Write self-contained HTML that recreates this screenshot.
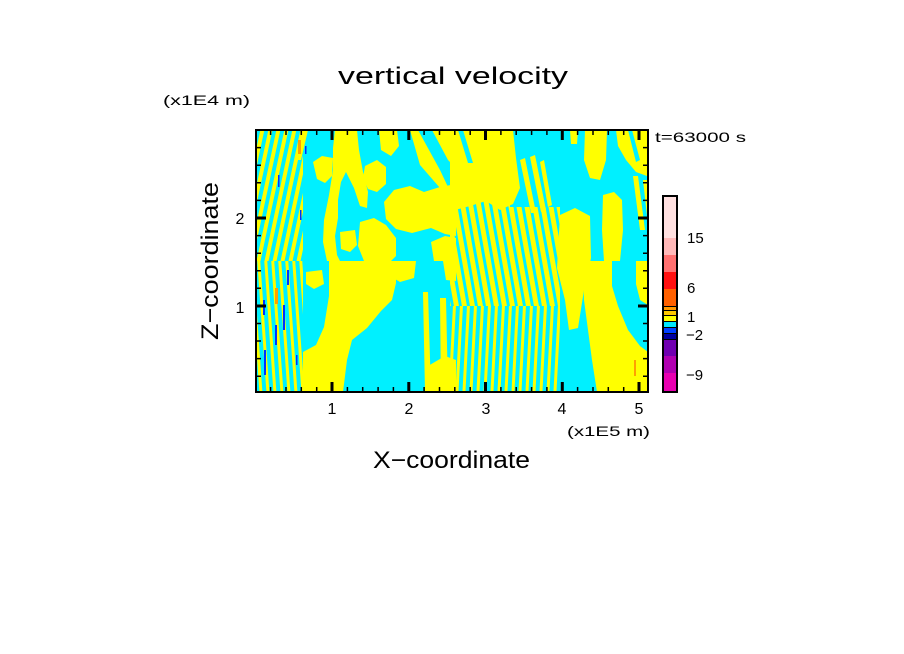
<!DOCTYPE html>
<html><head><meta charset="utf-8"><style>
html,body{margin:0;padding:0;background:#fff;}
svg{display:block;}
text{font-family:"Liberation Sans",sans-serif;fill:#000;}
</style></head><body>
<svg width="904" height="654" viewBox="0 0 904 654" xmlns="http://www.w3.org/2000/svg">
<defs>
<clipPath id="pc"><rect x="256" y="130" width="392" height="262"/></clipPath>
<pattern id="pa" width="8" height="20" patternUnits="userSpaceOnUse" patternTransform="skewX(-12)"><rect width="8" height="20" fill="#00f0ff"/><rect width="4" height="20" fill="#ffff00"/></pattern>
<pattern id="pb" width="7" height="20" patternUnits="userSpaceOnUse" patternTransform="skewX(4)"><rect width="7" height="20" fill="#00f0ff"/><rect x="1" width="3" height="20" fill="#ffff00"/></pattern>
<pattern id="pc1" width="8" height="20" patternUnits="userSpaceOnUse" patternTransform="skewX(10)"><rect width="8" height="20" fill="#00f0ff"/><rect width="5" height="20" fill="#ffff00"/></pattern>
<pattern id="pd" width="7" height="20" patternUnits="userSpaceOnUse" patternTransform="skewX(-3)"><rect width="7" height="20" fill="#00f0ff"/><rect width="3" height="20" fill="#ffff00"/></pattern>
</defs>
<rect width="904" height="654" fill="#fff"/>

<!-- title -->
<text x="338" y="84" font-size="24" textLength="230" lengthAdjust="spacingAndGlyphs">vertical velocity</text>
<text x="163" y="105" font-size="14" textLength="87" lengthAdjust="spacingAndGlyphs">(x1E4 m)</text>
<text x="655" y="142" font-size="14" textLength="91" lengthAdjust="spacingAndGlyphs">t=63000 s</text>

<!-- plot field -->
<g clip-path="url(#pc)">
<rect x="256" y="130" width="392" height="262" fill="#00f0ff"/>
<!-- striped zones -->
<rect x="256" y="130" width="47" height="131" fill="url(#pa)"/>
<rect x="256" y="261" width="47" height="131" fill="url(#pb)"/>
<rect x="450" y="200" width="60" height="61" fill="url(#pc1)"/>
<rect x="510" y="207" width="50" height="54" fill="url(#pc1)"/>
<rect x="450" y="261" width="110" height="45" fill="url(#pc1)"/>
<rect x="450" y="306" width="110" height="86" fill="url(#pd)"/>

<g fill="#ffff00">
<!-- TL -->
<polygon points="335,130 357,130 359,150 363,172 368,192 367,208 360,206 354,188 346,172 341,182 338,200 338,218 335,236 337,255 340,261 327,261 323,242 324,220 329,195 333,170 333,148"/>
<polygon points="313,162 322,156 333,158 332,176 325,183 317,179"/>
<polygon points="365,166 377,160 386,167 386,184 377,192 368,189 363,178"/>
<polygon points="379,130 397,130 399,146 391,156 381,150"/>
<polygon points="384,202 394,190 410,186 424,192 440,187 456,184 456,236 445,234 431,228 412,233 396,229 386,219"/>
<polygon points="410,130 418,130 440,170 448,187 440,188 420,165"/>
<polygon points="432,130 456,130 456,168 448,160"/>
<polygon points="340,232 355,230 357,245 350,252 341,249"/>
<polygon points="360,222 374,218 386,225 396,238 396,256 391,261 364,261 358,246"/>
<polygon points="431,242 445,236 456,238 456,261 434,261"/>
<polygon points="303,130 308,130 301,160 298,160"/>
<!-- BL -->
<polygon points="329,261 396,261 396,283 392,300 381,311 367,328 352,340 347,360 343,392 303,392 303,352 316,345 324,327 329,296"/>
<polygon points="306,272 322,270 324,284 314,289 306,284"/>
<polygon points="423,292 428,292 431,392 425,392"/>
<polygon points="440,298 446,298 448,392 441,392"/>
<polygon points="428,366 445,356 456,360 456,392 430,392"/>
<polygon points="389,261 416,261 414,278 400,282 390,276"/>
<polygon points="443,261 456,261 456,281 446,280"/>
<!-- TR -->
<polygon points="456,130 513,130 516,158 520,188 513,204 500,210 486,201 470,206 455,210 450,196 450,160"/>
<polygon points="520,160 525,158 536,213 531,213"/>
<polygon points="530,157 535,155 546,210 541,212"/>
<polygon points="540,162 544,160 552,205 548,207"/>
<polygon points="570,130 578,130 577,144 571,144"/>
<polygon points="585,130 607,130 606,160 600,180 590,178 584,160"/>
<polygon points="616,130 647,130 647,176 636,172 626,160 618,146"/>
<polygon points="633,176 638,176 645,230 640,230"/>
<polygon points="643,180 648,180 648,225"/>
<polygon points="603,195 614,192 622,200 623,230 620,261 604,261 602,230"/>
<polygon points="560,215 575,208 590,216 591,258 584,290 578,328 569,330 565,300 557,268"/>
<!-- BR -->
<polygon points="583,261 612,261 612,286 618,306 628,330 640,346 648,352 648,392 597,392 592,360 588,330 584,300"/>
<polygon points="636,261 648,261 648,305 640,300 636,284"/>
</g>
<g fill="#00f0ff">
<polygon points="458,130 463,130 473,163 468,163"/>
<polygon points="628,130 632,130 640,160 636,162"/>
</g>
<!-- blue / orange streaks -->
<g fill="#0030ff">
<rect x="263" y="300" width="2" height="15"/>
<rect x="264" y="350" width="2" height="25"/>
<rect x="275" y="325" width="2" height="20"/>
<rect x="283" y="305" width="2" height="25"/>
<rect x="287" y="270" width="2" height="15"/>
<rect x="278" y="175" width="1.5" height="12"/>
<rect x="300" y="210" width="1.5" height="10"/>
<rect x="305" y="146" width="1.5" height="8"/>
<rect x="296" y="355" width="1.5" height="10"/>
</g>
<g fill="#ffa000">
<rect x="275" y="288" width="3" height="16"/>
<rect x="298" y="140" width="3" height="14"/>
<rect x="634" y="360" width="2" height="16"/>
</g>
</g>

<!-- frame -->
<rect x="256" y="130" width="392" height="262" fill="none" stroke="#000" stroke-width="2"/>
<!-- x ticks -->
<g stroke="#000" stroke-width="1.5">
<path d="M270.6 130v5M286 130v5M301.3 130v5M316.7 130v5M347.4 130v5M362.7 130v5M378.1 130v5M393.4 130v5M424.1 130v5M439.5 130v5M454.8 130v5M470.2 130v5M500.9 130v5M516.2 130v5M531.6 130v5M546.9 130v5M577.6 130v5M593 130v5M608.3 130v5M623.7 130v5"/>
<path d="M270.6 392v-5M286 392v-5M301.3 392v-5M316.7 392v-5M347.4 392v-5M362.7 392v-5M378.1 392v-5M393.4 392v-5M424.1 392v-5M439.5 392v-5M454.8 392v-5M470.2 392v-5M500.9 392v-5M516.2 392v-5M531.6 392v-5M546.9 392v-5M577.6 392v-5M593 392v-5M608.3 392v-5M623.7 392v-5"/>
<path d="M256 376.2h5M256 358.6h5M256 341h5M256 323.5h5M256 288.3h5M256 270.7h5M256 253.2h5M256 235.6h5M256 200.4h5M256 182.8h5M256 165.2h5M256 147.6h5"/>
<path d="M648 376.2h-5M648 358.6h-5M648 341h-5M648 323.5h-5M648 288.3h-5M648 270.7h-5M648 253.2h-5M648 235.6h-5M648 200.4h-5M648 182.8h-5M648 165.2h-5M648 147.6h-5"/>
</g>
<g stroke="#000" stroke-width="3">
<path d="M332 130v10M408.8 130v10M485.5 130v10M562.3 130v10M639 130v10"/>
<path d="M332 392v-10M408.8 392v-10M485.5 392v-10M562.3 392v-10M639 392v-10"/>
<path d="M256 306h10M256 218h10M648 306h-10M648 218h-10"/>
</g>

<!-- tick labels -->
<g font-size="16" text-anchor="middle">
<text x="332" y="414">1</text>
<text x="409" y="414">2</text>
<text x="486" y="414">3</text>
<text x="562" y="414">4</text>
<text x="639" y="414">5</text>
<text x="240" y="224">2</text>
<text x="240" y="313">1</text>
</g>
<text x="567" y="436" font-size="14" textLength="83" lengthAdjust="spacingAndGlyphs">(x1E5 m)</text>
<text x="373" y="468" font-size="24" textLength="157" lengthAdjust="spacingAndGlyphs">X−coordinate</text>
<text transform="translate(218,340) rotate(-90)" font-size="24" textLength="158" lengthAdjust="spacingAndGlyphs">Z−coordinate</text>

<!-- colorbar -->
<rect x="663" y="196" width="14" height="42" fill="#ffe0e0"/>
<rect x="663" y="238" width="14" height="17" fill="#ffb8b8"/>
<rect x="663" y="255" width="14" height="17" fill="#ff7070"/>
<rect x="663" y="272" width="14" height="17" fill="#ff1010"/>
<rect x="663" y="289" width="14" height="17" fill="#ff6000"/>
<rect x="663" y="306" width="14" height="4" fill="#ff9800"/>
<rect x="663" y="310" width="14" height="5" fill="#ffc800"/>
<rect x="663" y="315" width="14" height="6" fill="#ffff00"/>
<rect x="663" y="321" width="14" height="6" fill="#00e8ff"/>
<rect x="663" y="327" width="14" height="6" fill="#0040ff"/>
<rect x="663" y="333" width="14" height="6" fill="#0000a0"/>
<rect x="663" y="339" width="14" height="17" fill="#7000b0"/>
<rect x="663" y="356" width="14" height="17" fill="#b000b0"/>
<rect x="663" y="373" width="14" height="19" fill="#e800b0"/>
<g stroke="#000" stroke-width="1">
<path d="M663 306.5h14M663 310.5h14M663 315.5h14M663 321.5h14M663 327.5h14M663 333.5h14M663 339.5h14"/>
</g>
<rect x="663" y="196" width="14" height="196" fill="none" stroke="#000" stroke-width="2"/>
<g font-size="15">
<text x="687" y="243">15</text>
<text x="687" y="293">6</text>
<text x="687" y="322">1</text>
<text x="686" y="340">−2</text>
<text x="686" y="380">−9</text>
</g>
</svg>
</body></html>
